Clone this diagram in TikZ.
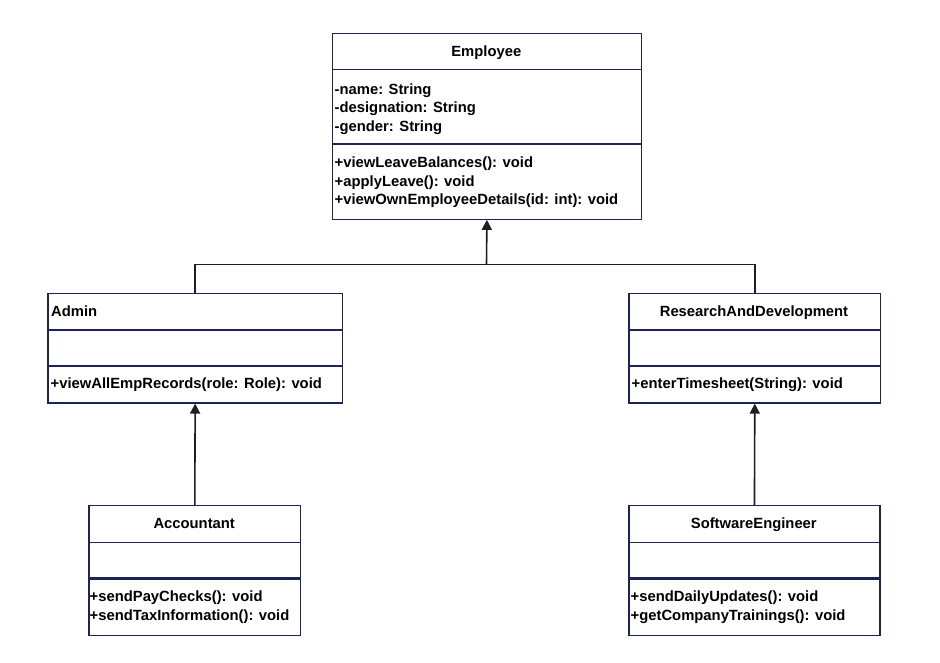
\documentclass[tikz,border=0pt]{standalone}
\usepackage{fontspec}
\setmainfont{Liberation Sans}
\usetikzlibrary{arrows.meta}
\definecolor{boxline}{HTML}{1C2456}
\definecolor{conn}{HTML}{1E1E1E}
\tikzset{
  classbox/.style={draw=boxline, line width=1.3pt, fill=white, rectangle, inner sep=0pt, anchor=north west},
  divider/.style={draw=boxline, line width=1.3pt},
  thickdiv/.style={draw=boxline, line width=2.2pt},
  txt/.style={inner sep=0pt, anchor=base west, font=\fontsize{14.8}{18}\selectfont\bfseries},
  ttl/.style={inner sep=0pt, anchor=base, font=\fontsize{14.8}{18}\selectfont\bfseries},
  conline/.style={draw=conn, line width=1.6pt},
  inh/.style={conline, -{Triangle[length=10pt,width=10pt]}},
}
\begin{document}
\begin{tikzpicture}[x=1pt,y=-1pt]
\useasboundingbox (0,0) rectangle (940,662);
% boxes
\node[classbox, minimum width=309.5pt, minimum height=186pt] (emp) at (331.5,32.5) {};
\node[classbox, minimum width=294.4pt, minimum height=109.3pt] (admin) at (47.3,293) {};
\node[classbox, minimum width=251.7pt, minimum height=109.3pt] (rd) at (628.3,293) {};
\node[classbox, minimum width=211.7pt, minimum height=130pt] (acc) at (88.3,505) {};
\node[classbox, minimum width=251pt, minimum height=130pt] (se) at (628.3,505) {};
% dividers
\draw[divider] (331.5,69.5) -- (641,69.5);
\draw[divider] (331.5,144) -- (641,144);
\draw[divider] (47.3,330) -- (341.7,330);
\draw[divider] (47.3,366) -- (341.7,366);
\draw[divider] (628.3,330) -- (880,330);
\draw[divider] (628.3,366) -- (880,366);
\draw[divider] (88.3,542.7) -- (300,542.7);
\draw[thickdiv] (88.3,578.5) -- (300,578.5);
\draw[divider] (628.3,542.7) -- (879.3,542.7);
\draw[thickdiv] (628.3,578.5) -- (879.3,578.5);
% texts
\node[ttl] (empT) at (486.3,56) {Employee};
\node[txt] (empA1) at (334.5,94) {-name: String};
\node[txt] (empA2) at (334.5,112.5) {-designation: String};
\node[txt] (empA3) at (334.5,131) {-gender: String};
\node[txt] (empM1) at (334.5,167.5) {+viewLeaveBalances(): void};
\node[txt] (empM2) at (334.5,186) {+applyLeave(): void};
\node[txt] (empM3) at (334.5,204.5) {+viewOwnEmployeeDetails(id: int): void};
\node[txt] (adminT) at (51,316.5) {Admin};
\node[txt] (adminM1) at (50.5,388.5) {+viewAllEmpRecords(role: Role): void};
\node[ttl] (rdT) at (754,316.5) {ResearchAndDevelopment};
\node[txt] (rdM1) at (631.5,388.5) {+enterTimesheet(String): void};
\node[ttl] (accT) at (194.2,528) {Accountant};
\node[txt] (accM1) at (89.5,601.5) {+sendPayChecks(): void};
\node[txt] (accM2) at (89.5,620) {+sendTaxInformation(): void};
\node[ttl] (seT) at (753.8,528) {SoftwareEngineer};
\node[txt] (seM1) at (630.5,601.5) {+sendDailyUpdates(): void};
\node[txt] (seM2) at (630.5,620) {+getCompanyTrainings(): void};
% connectors
\coordinate (j) at (486.5,264.5);
\draw[conline] (admin.north) |- (j);
\draw[conline] (rd.north) |- (j);
\draw[inh] (j) -- (emp.south);
\draw[inh] (acc.north) -- (admin.south);
\draw[inh] (se.north) -- (rd.south);
\end{tikzpicture}
\end{document}
